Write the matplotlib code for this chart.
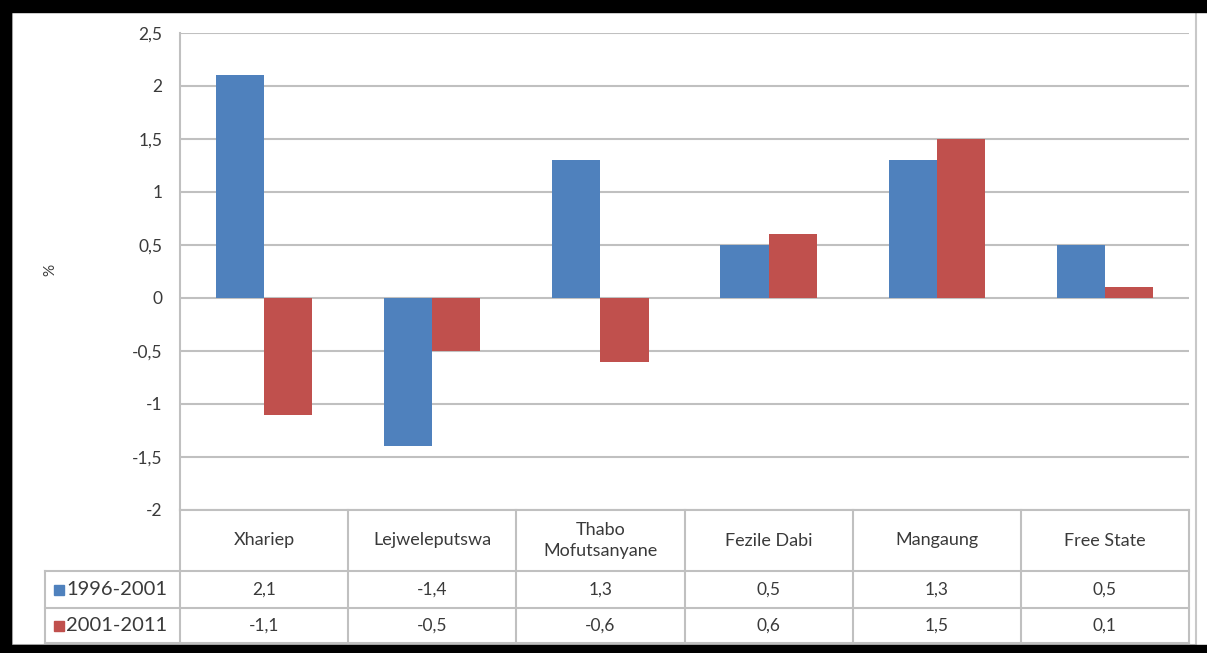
import numpy as np
import matplotlib.pyplot as plt
from matplotlib.patches import Rectangle
from matplotlib.lines import Line2D
from matplotlib.ticker import FuncFormatter

# data
categories = ['Xhariep', 'Lejweleputswa', 'Thabo\nMofutsanyane', 'Fezile Dabi', 'Mangaung', 'Free State']
series_names = ['1996-2001', '2001-2011']
vals_9601 = [2.1, -1.4, 1.3, 0.5, 1.3, 0.5]
vals_0111 = [-1.1, -0.5, -0.6, 0.6, 1.5, 0.1]
colors = ['#4F81BD', '#C0504D']

plt.rcParams['font.family'] = ['Lato', 'DejaVu Sans']
txt = '#3A3A3A'

W, H = 1207, 653
fig = plt.figure(figsize=(W / 100, H / 100), dpi=100)

def fx(x):
    return x / W

def fy(y):
    return 1 - y / H

def comma(v):
    return ('%g' % v).replace('.', ',')

# frame of the screenshot
fig.patches.append(Rectangle((fx(12), fy(645)), fx(1196 - 12), fy(12) - fy(645), transform=fig.transFigure,
                             fill=False, edgecolor='#C8C8C8', lw=1.5))
fig.patches.append(Rectangle((0, fy(12)), 1, 12 / H, transform=fig.transFigure, color='black'))
fig.patches.append(Rectangle((0, 0), fx(11), 1, transform=fig.transFigure, color='black'))
fig.patches.append(Rectangle((0, 0), 1, 8 / H, transform=fig.transFigure, color='black'))

# plot area
left, right, top, bottom = 180, 1189, 33, 510
ax = fig.add_axes([fx(left), fy(bottom), fx(right - left), fy(top) - fy(bottom)])
x = np.arange(len(categories))
w = 0.286
ax.bar(x - w / 2, vals_9601, w, color=colors[0], zorder=3)
ax.bar(x + w / 2, vals_0111, w, color=colors[1], zorder=3)
ax.set_xlim(-0.5, len(categories) - 0.5)
ax.set_ylim(-2, 2.5)
ax.set_yticks(np.arange(-2, 2.51, 0.5))
ax.yaxis.set_major_formatter(FuncFormatter(lambda v, p: comma(v)))
ax.tick_params(axis='y', length=0, pad=12.5, labelsize=12.5, labelcolor=txt)
ax.set_xticks([])
ax.grid(axis='y', color='#C0C0C0', lw=1.5, zorder=0)
for s in ['top', 'right', 'bottom']:
    ax.spines[s].set_visible(False)
ax.spines['left'].set_color('#C0C0C0')
ax.spines['left'].set_linewidth(1.5)
fig.text(fx(50), fy(270), '%', rotation=90, ha='center', va='center', fontsize=11, color=txt)

# data table below the axis
col_w = (right - left) / len(categories)
row_y = [510, 571, 608, 643]
lc = '#C0C0C0'
fig.add_artist(Line2D([fx(left), fx(right)], [fy(row_y[0])] * 2, color=lc, lw=1.5))
for yy in row_y[1:]:
    fig.add_artist(Line2D([fx(45), fx(right)], [fy(yy)] * 2, color=lc, lw=1.5))
for i in range(len(categories) + 1):
    xx = left + i * col_w
    fig.add_artist(Line2D([fx(xx)] * 2, [fy(row_y[0]), fy(row_y[-1])], color=lc, lw=1.5))
fig.add_artist(Line2D([fx(45)] * 2, [fy(row_y[1]), fy(row_y[-1])], color=lc, lw=1.5))

for i, c in enumerate(categories):
    cx = fx(left + (i + 0.5) * col_w)
    fig.text(cx, fy((row_y[0] + row_y[1]) / 2), c, ha='center', va='center', fontsize=13,
             color=txt, linespacing=1.35)
    for r, vals in enumerate([vals_9601, vals_0111]):
        fig.text(cx, fy((row_y[r + 1] + row_y[r + 2]) / 2), comma(vals[i]),
                 ha='center', va='center', fontsize=12.5, color=txt)

for r, name in enumerate(series_names):
    yc = (row_y[r + 1] + row_y[r + 2]) / 2
    fig.patches.append(Rectangle((fx(54), fy(yc + 5)), fx(10), 10 / H, transform=fig.transFigure,
                                 color=colors[r]))
    fig.text(fx(66), fy(yc), name, ha='left', va='center', fontsize=14.5, color=txt)

fig.savefig('out.png', dpi=100)
